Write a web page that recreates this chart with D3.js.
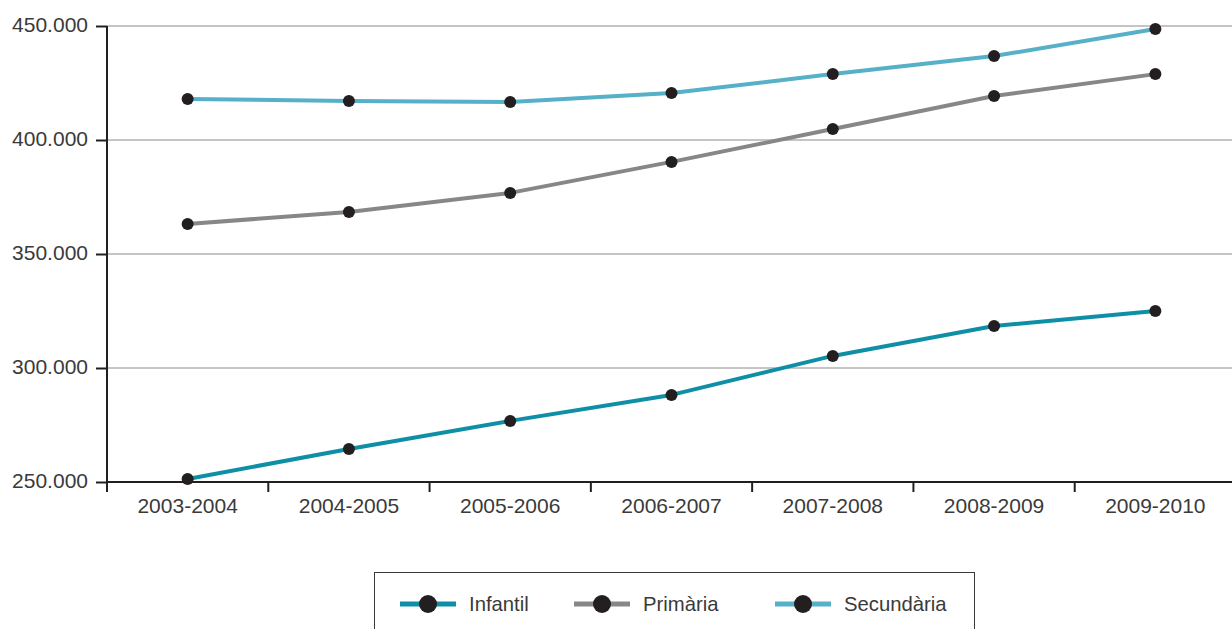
<!DOCTYPE html>
<html><head><meta charset="utf-8">
<script src="https://cdn.jsdelivr.net/npm/d3@7"></script>
<style>body{margin:0;background:#fff;} text{font-family:"Liberation Sans",Arial,sans-serif;}</style>
</head><body><svg id="c" width="1232" height="629"></svg>
<script>
const categories = ["2003-2004","2004-2005","2005-2006","2006-2007","2007-2008","2008-2009","2009-2010"];
const infantil   = [251300, 264500, 276800, 288200, 305300, 318400, 325000];
const primaria   = [363200, 368400, 376800, 390400, 404800, 419300, 428900];
const secundaria = [418000, 417100, 416700, 420600, 428900, 436800, 448700];
const seriesNames = ["Infantil","Primària","Secundària"];
const yTicks = [250000, 300000, 350000, 400000, 450000];
const colors = ["#0e8fa6","#87878a","#56b0c8"];

const svg = d3.select("#c");
const x = d3.scaleBand().domain(categories).range([107, 1236]);
const y = d3.scaleLinear().domain([250000, 450000]).range([482, 26]);
const fmt = d => d3.format(",")(d).replace(/,/g, ".");

// gridlines
svg.append("g").selectAll("line").data(yTicks).join("line")
  .attr("x1", 107).attr("x2", 1232)
  .attr("y1", d => y(d)).attr("y2", d => y(d))
  .attr("stroke", "#8a8a8a").attr("stroke-width", 1);

// y axis
const ya = svg.append("g").attr("transform", "translate(107,0)")
  .call(d3.axisLeft(y).tickValues(yTicks).tickSize(11).tickSizeOuter(0).tickPadding(8).tickFormat(fmt));
ya.select(".domain").attr("stroke", "#231f20").attr("stroke-width", 2).attr("d", `M0,${y(450000)}V${y(250000)+10}`);
ya.selectAll(".tick line").attr("stroke", "#231f20").attr("stroke-width", 2);
ya.selectAll(".tick text").attr("font-size", 21).attr("fill", "#3a3a3a").attr("dy", "0.26em");

// x axis
const xa = svg.append("g").attr("transform", `translate(0,${y(250000)})`);
xa.append("line").attr("x1", 107).attr("x2", 1232).attr("stroke", "#231f20").attr("stroke-width", 2);
xa.selectAll("line.tk").data(categories.slice(1)).join("line").attr("class","tk")
  .attr("x1", d => x(d)).attr("x2", d => x(d)).attr("y1", 0).attr("y2", 10)
  .attr("stroke", "#231f20").attr("stroke-width", 2);
xa.selectAll("text").data(categories).join("text")
  .attr("x", d => x(d) + x.bandwidth()/2).attr("y", 31)
  .attr("text-anchor", "middle").attr("font-size", 21).attr("fill", "#3a3a3a").text(d => d);

// lines
const allSeries = [infantil, primaria, secundaria];
const line = d3.line().x((d,i) => x(categories[i]) + x.bandwidth()/2).y(d => y(d));
allSeries.forEach((s, k) => {
  svg.append("path").datum(s).attr("d", line).attr("fill", "none")
    .attr("stroke", colors[k]).attr("stroke-width", 4).attr("stroke-linejoin", "round");
});
allSeries.forEach((s, k) => {
  svg.append("g").selectAll("circle").data(s).join("circle")
    .attr("cx", (d,i) => x(categories[i]) + x.bandwidth()/2).attr("cy", d => y(d))
    .attr("r", 6).attr("fill", "#231f20");
});

// legend
const lg = svg.append("g");
lg.append("rect").attr("x", 374.5).attr("y", 572.5).attr("width", 600).attr("height", 70)
  .attr("fill", "none").attr("stroke", "#3a3a3a").attr("stroke-width", 1);
const legX = [400, 574, 775];
seriesNames.forEach((n, k) => {
  const g = lg.append("g").attr("transform", `translate(${legX[k]},604)`);
  g.append("line").attr("x1", 0).attr("x2", 56).attr("stroke", colors[k]).attr("stroke-width", 5);
  g.append("circle").attr("cx", 28).attr("r", 9).attr("fill", "#231f20");
  g.append("text").attr("x", 69).attr("dy", "0.35em").attr("font-size", 20.3).attr("fill", "#3a3a3a").text(n);
});
</script></body></html>
